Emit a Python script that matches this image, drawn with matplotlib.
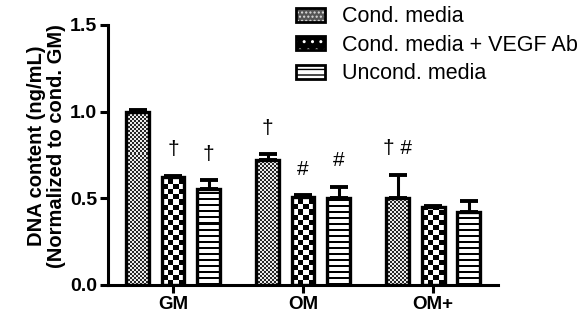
import numpy as np
import matplotlib
matplotlib.use("Agg")
import matplotlib.pyplot as plt
from matplotlib.patches import Patch

plt.rcParams["font.family"] = ["Liberation Sans", "DejaVu Sans"]

groups = ["GM", "OM", "OM+"]
series = ["Cond. media", "Cond. media + VEGF Ab", "Uncond. media"]
means = [
    [1.00, 0.72, 0.50],   # Cond. media
    [0.625, 0.51, 0.45],  # Cond. media + VEGF Ab
    [0.555, 0.50, 0.42],  # Uncond. media
]
errors = [
    [0.012, 0.035, 0.135],
    [0.006, 0.008, 0.008],
    [0.05, 0.065, 0.065],
]
marks = [
    ["", "\u2020", "\u2020 #"],
    ["\u2020", "#", ""],
    ["\u2020", "#", ""],
]


def pattern(kind, h, w):
    yy, xx = np.mgrid[0:h, 0:w]
    if kind == "fine":
        return np.where((yy // 2 + xx // 2) % 2 == 0, 0.15, 0.92)
    if kind == "coarse":
        return np.where((yy // 5 + xx // 5) % 2 == 0, 0.0, 1.0)
    return np.where(yy % 6 < 2, 0.0, 1.0)


kinds = ["fine", "coarse", "stripes"]

fig = plt.figure(figsize=(5.84, 3.18), dpi=100)
ax = fig.add_axes([0.185, 0.104, 0.668, 0.8176])

x = np.arange(len(groups))
offset = 0.273
width = 0.175
ax_w = int(round(0.668 * 584))
ax_h = int(round(0.8176 * 318))

for i, name in enumerate(series):
    pos = x + (i - 1) * offset
    bars = ax.bar(pos, means[i], width, color="white", linewidth=0, zorder=1)
    img_data = pattern(kinds[i], ax_h, ax_w)
    for b in bars:
        im = ax.imshow(img_data, cmap="gray", vmin=0, vmax=1, origin="lower",
                       extent=(0, 1, 0, 1), transform=ax.transAxes,
                       interpolation="nearest", aspect="auto", zorder=2)
        im.set_clip_path(b)
    ax.errorbar(pos, means[i], yerr=[np.zeros(3), errors[i]], fmt="none",
                ecolor="black", elinewidth=2.2, capsize=6.5, capthick=2.8, zorder=0.5)
    ax.bar(pos, means[i], width, fill=False, edgecolor="black", linewidth=2.4, zorder=3)
    for j, t in enumerate(marks[i]):
        if t:
            ax.text(pos[j], means[i][j] + errors[i][j] + 0.15, t, ha="center", va="center",
                    fontsize=15, zorder=4)

ax.set_xlim(-0.5, 2.5)
ax.set_ylim(0, 1.5)
ax.set_autoscale_on(False)
ax.set_xticks(x)
ax.set_xticklabels(groups, fontsize=13.5, fontweight="bold")
ax.set_yticks([0, 0.5, 1.0, 1.5])
ax.set_yticklabels(["0.0", "0.5", "1.0", "1.5"], fontsize=14, fontweight="bold")
ax.spines["top"].set_visible(False)
ax.spines["right"].set_visible(False)
for s in ["left", "bottom"]:
    ax.spines[s].set_linewidth(2.2)
ax.tick_params(width=2.2, length=6, direction="out", pad=2)
ax.set_ylabel("DNA content (ng/mL)\n(Normalized to cond. GM)", fontsize=14.5,
              fontweight="bold", linespacing=1.05)
ax.yaxis.set_label_coords(-0.108, 0.535)

handles = [
    (Patch(facecolor="#555555", edgecolor="#dddddd", hatch="....", linewidth=0),
     Patch(fill=False, edgecolor="black", linewidth=2)),
    (Patch(facecolor="black", edgecolor="white", hatch="..", linewidth=0),
     Patch(fill=False, edgecolor="black", linewidth=2)),
    (Patch(facecolor="white", edgecolor="black", hatch="---", linewidth=0),
     Patch(fill=False, edgecolor="black", linewidth=2)),
]
fig.legend(handles, series, loc="upper left", bbox_to_anchor=(296 / 584, 0.98),
           frameon=False, fontsize=15.5, handlelength=1.35, handleheight=0.6,
           handletextpad=0.8, labelspacing=0.35, borderpad=0, borderaxespad=0)

fig.savefig("out.png", dpi=100)
